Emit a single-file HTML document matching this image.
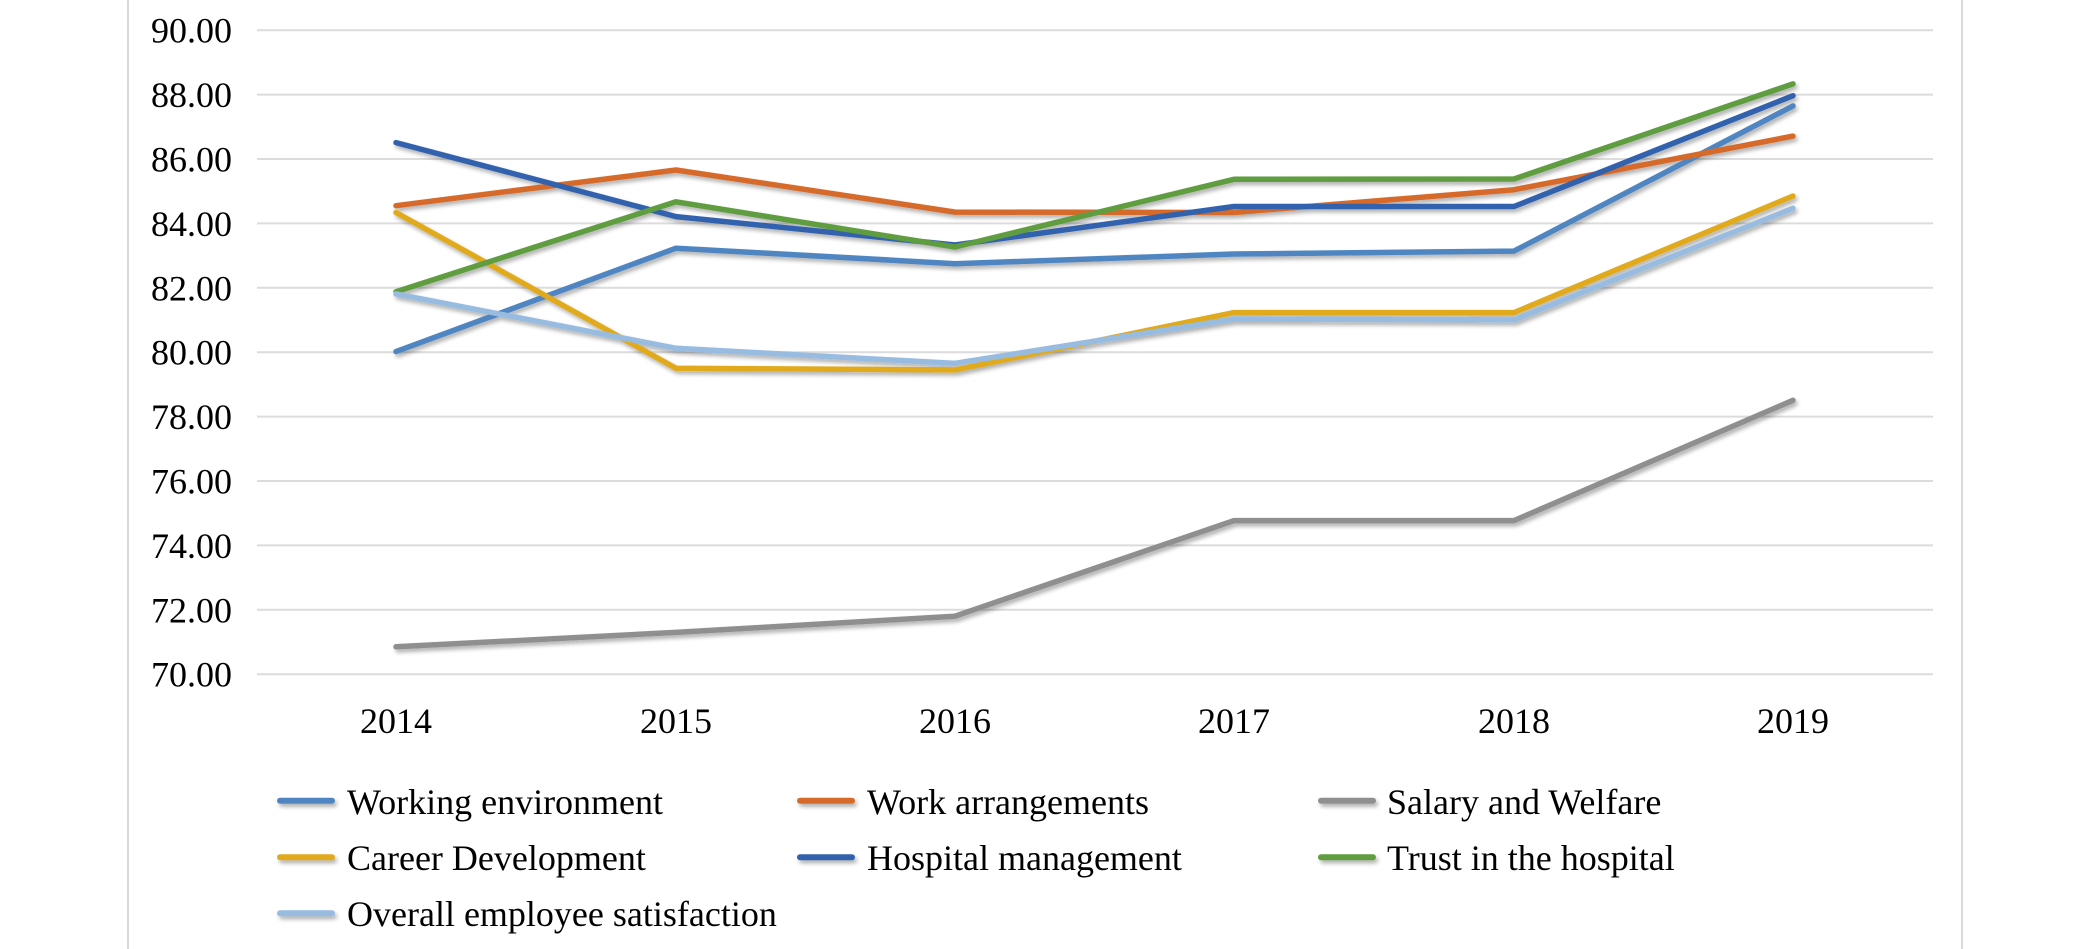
<!DOCTYPE html>
<html>
<head>
<meta charset="utf-8">
<style>
  html, body { margin: 0; padding: 0; background: #ffffff; }
  body { width: 2088px; height: 949px; overflow: hidden; }
  svg { display: block; }
  text { font-family: "Liberation Serif", "Times New Roman", serif; fill: #000; }
</style>
</head>
<body>
<svg width="2088" height="949" viewBox="0 0 2088 949" xmlns="http://www.w3.org/2000/svg">
  <defs>
    <filter id="sh" x="-5%" y="-20%" width="110%" height="140%">
      <feGaussianBlur in="SourceAlpha" stdDeviation="2"/>
      <feOffset dx="2" dy="3" result="o"/>
      <feComponentTransfer><feFuncA type="linear" slope="0.32"/></feComponentTransfer>
      <feMerge><feMergeNode/><feMergeNode in="SourceGraphic"/></feMerge>
    </filter>
  </defs>
  <rect x="0" y="0" width="2088" height="949" fill="#ffffff"/>

  <!-- chart border sides -->
  <line x1="128" y1="0" x2="128" y2="949" stroke="#d9d9d9" stroke-width="2"/>
  <line x1="1962" y1="0" x2="1962" y2="949" stroke="#d9d9d9" stroke-width="2"/>

  <!-- gridlines -->
  <g stroke="#dcdcdc" stroke-width="2">
    <line x1="257" y1="30.2" x2="1933" y2="30.2"/>
    <line x1="257" y1="94.6" x2="1933" y2="94.6"/>
    <line x1="257" y1="159" x2="1933" y2="159"/>
    <line x1="257" y1="223.4" x2="1933" y2="223.4"/>
    <line x1="257" y1="287.8" x2="1933" y2="287.8"/>
    <line x1="257" y1="352.2" x2="1933" y2="352.2"/>
    <line x1="257" y1="416.6" x2="1933" y2="416.6"/>
    <line x1="257" y1="481" x2="1933" y2="481"/>
    <line x1="257" y1="545.4" x2="1933" y2="545.4"/>
    <line x1="257" y1="609.8" x2="1933" y2="609.8"/>
    <line x1="257" y1="674.2" x2="1933" y2="674.2"/>
  </g>

  <!-- y tick labels -->
  <g font-size="36" text-anchor="end">
    <text x="232" y="42.7">90.00</text>
    <text x="232" y="107.1">88.00</text>
    <text x="232" y="171.5">86.00</text>
    <text x="232" y="235.9">84.00</text>
    <text x="232" y="300.3">82.00</text>
    <text x="232" y="364.7">80.00</text>
    <text x="232" y="429.1">78.00</text>
    <text x="232" y="493.5">76.00</text>
    <text x="232" y="557.9">74.00</text>
    <text x="232" y="622.3">72.00</text>
    <text x="232" y="686.7">70.00</text>
  </g>

  <!-- x tick labels -->
  <g font-size="36" text-anchor="middle">
    <text x="396" y="733">2014</text>
    <text x="676" y="733">2015</text>
    <text x="955" y="733">2016</text>
    <text x="1234" y="733">2017</text>
    <text x="1514" y="733">2018</text>
    <text x="1793" y="733">2019</text>
  </g>

  <!-- series -->
  <g fill="none" stroke-width="5.5" stroke-linecap="round" stroke-linejoin="round" filter="url(#sh)">
    <polyline stroke="#4f85c1" points="396,351.6 676,248.2 955,263.7 1234,254 1514,251.1 1793,105.9"/>
    <polyline stroke="#d66a2c" points="396,205.7 676,170 955,212.1 1234,212.5 1514,189.7 1793,136.1"/>
    <polyline stroke="#8f8f8f" points="396,646.8 676,632.4 955,616.2 1234,520.6 1514,520.6 1793,400.3"/>
    <polyline stroke="#e1a91e" points="396,212.5 676,368.3 955,369.9 1234,312.6 1514,312.6 1793,196"/>
    <polyline stroke="#3262ad" points="396,142.6 676,216.6 955,245 1234,206.5 1514,206.5 1793,95.7"/>
    <polyline stroke="#5e9d40" points="396,291.7 676,201.8 955,247 1234,179.3 1514,179 1793,83.9"/>
    <polyline stroke="#98bbe0" points="396,293.9 676,348.3 955,363.4 1234,319 1514,319.9 1793,208.3"/>
  </g>

  <!-- legend -->
  <g stroke-width="6" stroke-linecap="round" filter="url(#sh)">
    <line x1="280" y1="800.7" x2="332" y2="800.7" stroke="#4f85c1"/>
    <line x1="800" y1="800.7" x2="852" y2="800.7" stroke="#d66a2c"/>
    <line x1="1321" y1="800.7" x2="1373" y2="800.7" stroke="#8f8f8f"/>
    <line x1="280" y1="857.3" x2="332" y2="857.3" stroke="#e1a91e"/>
    <line x1="800" y1="857.3" x2="852" y2="857.3" stroke="#3262ad"/>
    <line x1="1321" y1="857.3" x2="1373" y2="857.3" stroke="#5e9d40"/>
    <line x1="280" y1="913.3" x2="332" y2="913.3" stroke="#98bbe0"/>
  </g>
  <g font-size="36">
    <text x="347" y="814">Working environment</text>
    <text x="867" y="814">Work arrangements</text>
    <text x="1387" y="814">Salary and Welfare</text>
    <text x="347" y="870">Career Development</text>
    <text x="867" y="870">Hospital management</text>
    <text x="1387" y="870">Trust in the hospital</text>
    <text x="347" y="926">Overall employee satisfaction</text>
  </g>
</svg>
</body>
</html>
